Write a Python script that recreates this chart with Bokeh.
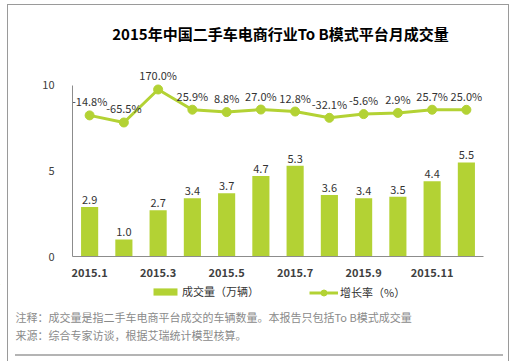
from bokeh.plotting import figure
from bokeh.layouts import column
from bokeh.models import (Range1d, FactorRange, ColumnDataSource, Legend,
                          LegendItem, FixedTicker, Label, CustomJSTickFormatter)
from bokeh.embed import file_html
from bokeh.resources import INLINE
from bokeh.core.properties import value

# ---- data ----
months = ["2015.1", "2015.2", "2015.3", "2015.4", "2015.5", "2015.6",
          "2015.7", "2015.8", "2015.9", "2015.10", "2015.11", "2015.12"]
volume = [2.9, 1.0, 2.7, 3.4, 3.7, 4.7, 5.3, 3.6, 3.4, 3.5, 4.4, 5.5]
growth = [-14.8, -65.5, 170.0, 25.9, 8.8, 27.0, 12.8, -32.1, -5.6, 2.9, 25.7, 25.0]
shown_ticks = ["2015.1", "2015.3", "2015.5", "2015.7", "2015.9", "2015.11"]
y_ticks = [0, 5, 10]

title_text = "2015年中国二手车电商行业To B模式平台月成交量"
legend_bar = "成交量（万辆）"
legend_line = "增长率（%）"
note1 = "注释：成交量是指二手车电商平台成交的车辆数量。本报告只包括To B模式成交量"
note2 = "来源：综合专家访谈，根据艾瑞统计模型核算。"

FONT = "Noto Sans CJK SC"
BAR = "#B3D234"
LINE = "#B3D234"

src = ColumnDataSource(dict(
    month=months,
    volume=volume,
    growth=growth,
    vol_txt=[f"{v:.1f}" for v in volume],
    gr_txt=[f"{g:.1f}%" for g in growth],
))

W = 515
HT, HA, HB = 50, 234, 77


def strip(h, y0):
    f = figure(x_range=Range1d(0, W), y_range=Range1d(y0 + h, y0),
               width=W, height=h, output_backend="svg", toolbar_location=None,
               min_border=0, x_axis_location=None, y_axis_location=None,
               title=None)
    f.frame_align = False
    f.xgrid.grid_line_color = None
    f.ygrid.grid_line_color = None
    f.outline_line_color = None
    f.border_fill_alpha = 0
    f.background_fill_alpha = 0
    return f


# ---------------- title strip ----------------
t = strip(HT, 0)
t.add_layout(Label(x=280, y=33, text=title_text, text_align="center",
                   text_baseline="middle", text_font=FONT,
                   text_font_size="15px", text_font_style="bold",
                   text_color="#000000"))

# ---------------- chart ----------------
p = figure(x_range=FactorRange(factors=months), y_range=Range1d(0, 11.11),
           width=W, height=HA, output_backend="svg", toolbar_location=None,
           min_border_left=72, min_border_right=32, min_border_top=16,
           min_border_bottom=28, title=None)
p.frame_align = False
p.extra_y_ranges = {"rate": Range1d(-1021.7, 334.1)}
p.xgrid.grid_line_color = None
p.ygrid.grid_line_color = None
p.outline_line_color = None
p.border_fill_alpha = 0
p.background_fill_alpha = 0

p.yaxis.ticker = FixedTicker(ticks=y_ticks)
p.yaxis.bounds = (0, 10)
p.yaxis.axis_line_color = "#8c8c8c"
p.yaxis.major_tick_line_color = None
p.yaxis.minor_tick_line_color = None
p.yaxis.major_label_text_font = FONT
p.yaxis.major_label_text_font_size = "11px"
p.yaxis.major_label_text_color = "#404040"
p.yaxis.major_label_standoff = 12

p.xaxis.axis_line_color = "#8c8c8c"
p.xaxis.major_tick_line_color = None
p.xaxis.minor_tick_line_color = None
p.xaxis.major_label_text_font = FONT
p.xaxis.major_label_text_font_size = "11px"
p.xaxis.major_label_text_font_style = "bold"
p.xaxis.major_label_text_color = "#404040"
p.xaxis.major_label_standoff = 5
p.xaxis.formatter = CustomJSTickFormatter(args=dict(shown=shown_ticks),
                                          code="return shown.includes(tick) ? tick : '';")

p.vbar(x="month", top="volume", width=0.5, source=src,
       fill_color=BAR, line_color=None)
p.text(x="month", y="volume", text="vol_txt", source=src, y_offset=-3,
       text_align="center", text_baseline="bottom",
       text_font=value(FONT), text_font_size="11px", text_color="#333333")

p.line(x="month", y="growth", source=src, y_range_name="rate",
       line_color=LINE, line_width=3)
p.scatter(x="month", y="growth", source=src, y_range_name="rate",
          size=9, fill_color=LINE, line_color=LINE)
p.text(x="month", y="growth", text="gr_txt", source=src, y_range_name="rate",
       y_offset=-14, text_align="center", text_baseline="middle",
       text_font=value(FONT), text_font_size="11px", text_color="#333333")

# ---------------- legend + notes strip ----------------
q = strip(HB, HT + HA)

# key renderers (kept outside the visible range; only their legend glyphs show)
off = [-1000, -999]
kb = q.vbar(x=off[:1], top=off[:1], bottom=off[:1], width=1,
            fill_color=BAR, line_color=None)
kl = q.line(x=off, y=off, line_color=LINE, line_width=3)
ks = q.scatter(x=off[:1], y=off[:1], size=7, fill_color=LINE, line_color=LINE)

common = dict(orientation="horizontal", padding=0, margin=0, spacing=0,
              border_line_color=None, background_fill_alpha=0,
              label_text_font=FONT, label_text_font_size="11px",
              label_text_color="#333333", label_standoff=2)
leg1 = Legend(items=[LegendItem(label=legend_bar, renderers=[kb])],
              location=(150, 62), glyph_width=30, glyph_height=9,
              label_height=9, **common)
leg2 = Legend(items=[LegendItem(label=legend_line, renderers=[kl, ks])],
              location=(309, 61), glyph_width=29, glyph_height=15,
              label_height=15, **common)
q.add_layout(leg1)
q.add_layout(leg2)

for txt, yy in ((note1, 316), (note2, 334)):
    q.add_layout(Label(x=15, y=yy, text=txt, text_baseline="middle",
                       text_font=FONT, text_font_size="11px",
                       text_color="#8a8a8a"))

layout = column(t, p, q, spacing=0)
layout.styles = {
    "background-image": ("linear-gradient(#9a9a9a,#9a9a9a),"
                         "linear-gradient(#9a9a9a,#9a9a9a),"
                         "linear-gradient(#9a9a9a,#9a9a9a),"
                         "linear-gradient(#b4b4b4,#b4b4b4)"),
    "background-position": "7px 4px, 7px 4px, 508px 4px, 15px 354px",
    "background-size": "1px 400px, 502px 1px, 1px 400px, 488px 2px",
    "background-repeat": "no-repeat",
}

open("out.html", "w").write(file_html(layout, INLINE))
